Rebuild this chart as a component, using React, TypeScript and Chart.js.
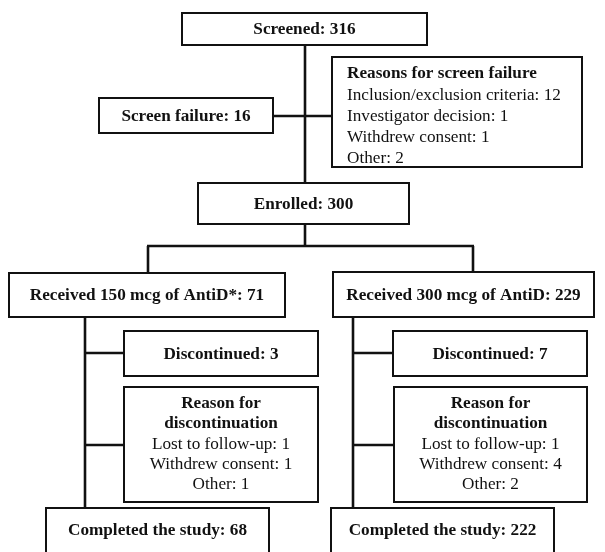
import React, { useEffect, useRef } from "react";
import { Chart, registerables } from "chart.js";

Chart.register(...registerables);

const screenedLabel = "Screened";
const screenedCount = 316;
const screenFailureLabel = "Screen failure";
const screenFailureCount = 16;
const failureReasonsTitle = "Reasons for screen failure";
const failureReasons = ["Inclusion/exclusion criteria", "Investigator decision", "Withdrew consent", "Other"];
const failureCounts = [12, 1, 1, 2];
const enrolledLabel = "Enrolled";
const enrolledCount = 300;
const armLabels = ["Received 150 mcg of AntiD*", "Received 300 mcg of AntiD"];
const armCounts = [71, 229];
const discontinuedLabel = "Discontinued";
const discontinuedCounts = [3, 7];
const discReasonTitle = ["Reason for", "discontinuation"];
const discReasons = ["Lost to follow-up", "Withdrew consent", "Other"];
const discCounts150 = [1, 1, 1];
const discCounts300 = [1, 4, 2];
const completedLabel = "Completed the study";
const completedCounts = [68, 222];

// ---- Layout (in scale units = page pixels) ----
type Box = { x0: number; x1: number; y0: number; y1: number };
const L: Record<string, Box> = {
  screened: { x0: 182, x1: 427, y0: 13, y1: 45 },
  failure: { x0: 99, x1: 273, y0: 98, y1: 133 },
  reasons: { x0: 332, x1: 582, y0: 57, y1: 167 },
  enrolled: { x0: 198, x1: 409, y0: 183, y1: 224 },
  arm0: { x0: 9, x1: 285, y0: 273, y1: 317 },
  arm1: { x0: 333, x1: 594, y0: 272, y1: 317 },
  disc0: { x0: 124, x1: 318, y0: 331, y1: 376 },
  disc1: { x0: 393, x1: 587, y0: 331, y1: 376 },
  dr0: { x0: 124, x1: 318, y0: 387, y1: 502 },
  dr1: { x0: 394, x1: 587, y0: 387, y1: 502 },
  comp0: { x0: 46, x1: 269, y0: 508, y1: 570 },
  comp1: { x0: 331, x1: 554, y0: 508, y1: 570 },
};
// connectors: [x0, y0, x1, y1]
const CONNECTORS: number[][] = [
  [305, 45, 305, 183],
  [273, 116, 332, 116],
  [305, 224, 305, 246],
  [147, 246, 474, 246],
  [148, 246, 148, 273],
  [473, 246, 473, 272],
  [85, 317, 85, 508],
  [353, 317, 353, 508],
  [85, 353, 124, 353],
  [353, 353, 393, 353],
  [85, 445, 124, 445],
  [353, 445, 394, 445],
];

const FONT = '"Liberation Serif", "Times New Roman", serif';
const SIZE = 17.2;

const flowPlugin = {
  id: "flow",
  beforeDraw(chart: any) {
    const { ctx, width, height } = chart;
    ctx.save();
    ctx.fillStyle = "#ffffff";
    ctx.fillRect(0, 0, width, height);
    ctx.restore();
  },
  afterDraw(chart: any) {
    const ctx: CanvasRenderingContext2D = chart.ctx;
    const xs = chart.scales.x;
    const ys = chart.scales.y;
    const px = (v: number) => xs.getPixelForValue(v);
    const py = (v: number) => ys.getPixelForValue(v);

    ctx.save();
    ctx.strokeStyle = "#111111";
    ctx.fillStyle = "#111111";

    // connectors
    ctx.lineWidth = 2.6;
    ctx.lineCap = "butt";
    for (const c of CONNECTORS) {
      ctx.beginPath();
      ctx.moveTo(px(c[0]), py(c[1]));
      ctx.lineTo(px(c[2]), py(c[3]));
      ctx.stroke();
    }

    // boxes
    const drawBox = (b: Box) => {
      const x = px(b.x0), y = py(b.y0), w = px(b.x1) - x, h = py(b.y1) - y;
      ctx.fillStyle = "#ffffff";
      ctx.fillRect(x, y, w, h);
      ctx.lineWidth = 2;
      ctx.strokeStyle = "#111111";
      ctx.strokeRect(x, y, w, h);
    };
    const text = (s: string, x: number, y: number, bold: boolean, align: CanvasTextAlign = "center") => {
      ctx.fillStyle = "#111111";
      ctx.font = `${bold ? "bold " : ""}${SIZE}px ${FONT}`;
      ctx.textAlign = align;
      ctx.textBaseline = "middle";
      ctx.fillText(s, px(x), py(y));
    };
    const centerText = (b: Box, s: string) => {
      drawBox(b);
      text(s, (b.x0 + b.x1) / 2, (b.y0 + b.y1) / 2 + 1, true);
    };

    centerText(L.screened, `${screenedLabel}: ${screenedCount}`);
    centerText(L.failure, `${screenFailureLabel}: ${screenFailureCount}`);
    centerText(L.enrolled, `${enrolledLabel}: ${enrolledCount}`);

    // reasons for screen failure
    drawBox(L.reasons);
    const rx = L.reasons.x0 + 15;
    text(failureReasonsTitle, rx, 74, true, "left");
    failureReasons.forEach((r, i) => {
      text(`${r}: ${failureCounts[i]}`, rx, 95 + i * 21.3, false, "left");
    });

    // arms
    [L.arm0, L.arm1].forEach((b, i) => centerText(b, `${armLabels[i]}: ${armCounts[i]}`));
    [L.disc0, L.disc1].forEach((b, i) => centerText(b, `${discontinuedLabel}: ${discontinuedCounts[i]}`));
    const dcounts = [discCounts150, discCounts300];
    [L.dr0, L.dr1].forEach((b, i) => {
      drawBox(b);
      const cx = (b.x0 + b.x1) / 2;
      text(discReasonTitle[0], cx, 404, true);
      text(discReasonTitle[1], cx, 424, true);
      discReasons.forEach((r, j) => {
        text(`${r}: ${dcounts[i][j]}`, cx, 444 + j * 20, false);
      });
    });
    [L.comp0, L.comp1].forEach((b, i) => {
      drawBox(b);
      text(`${completedLabel}: ${completedCounts[i]}`, (b.x0 + b.x1) / 2, 531, true);
    });

    ctx.restore();
  },
};

export default function App() {
  const ref = useRef<HTMLCanvasElement | null>(null);
  useEffect(() => {
    document.body.style.margin = "0";
    const canvas = ref.current!;
    const chart = new Chart(canvas, {
      type: "scatter",
      data: { datasets: [{ data: [], pointRadius: 0 }] },
      options: {
        animation: false,
        responsive: false,
        devicePixelRatio: 1,
        layout: { padding: 0 },
        plugins: { legend: { display: false }, tooltip: { enabled: false } },
        scales: {
          x: { type: "linear", min: 0, max: 605, display: false },
          y: { type: "linear", min: 0, max: 552, reverse: true, display: false },
        },
      },
      plugins: [flowPlugin],
    });
    return () => chart.destroy();
  }, []);
  return (
    <div style={{ position: "absolute", left: 0, top: 0, width: 605, height: 552 }}>
      <canvas ref={ref} width={605} height={552} style={{ display: "block" }} />
    </div>
  );
}
